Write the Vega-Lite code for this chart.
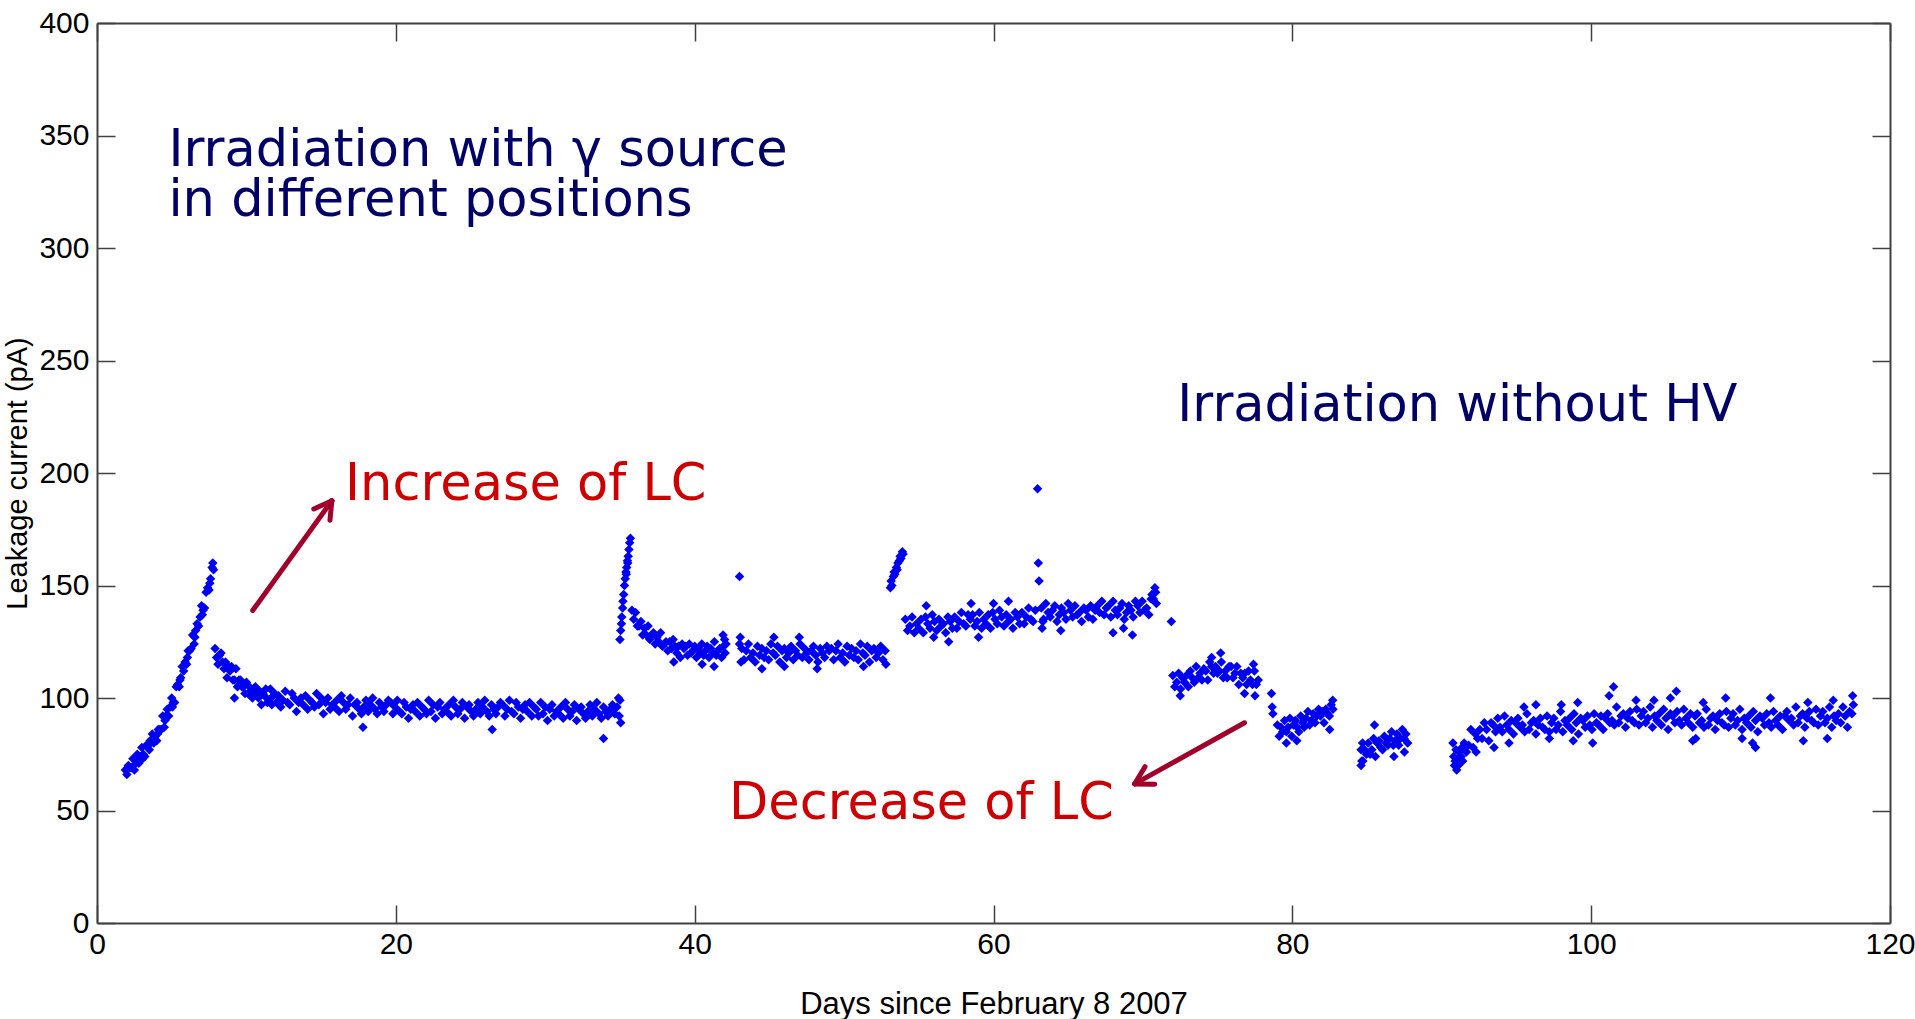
{
  "$schema": "https://vega.github.io/schema/vega-lite/v6.json",
  "width": 1793,
  "height": 900,
  "autosize": {"type": "none"},
  "padding": {"left": 97, "top": 23, "right": 25, "bottom": 96},
  "background": "white",
  "config": {"view": {"stroke": null}},
  "datasets": {
    "lc": [
      {"d":1.9,"v":68},{"d":2.0,"v":66},{"d":2.05,"v":69},{"d":2.1,"v":70},{"d":2.2,"v":69},{"d":2.3,"v":69},{"d":2.4,"v":73},{"d":2.45,"v":70},{"d":2.5,"v":68},{"d":2.6,"v":73},{"d":2.7,"v":75},{"d":2.8,"v":71},{"d":2.9,"v":74},{"d":3.0,"v":78},{"d":3.05,"v":73},{"d":3.1,"v":75},{"d":3.2,"v":74},{"d":3.3,"v":79},{"d":3.4,"v":79},{"d":3.5,"v":77},{"d":3.55,"v":81},{"d":3.6,"v":80},{"d":3.7,"v":84},{"d":3.8,"v":80},{"d":3.9,"v":83},{"d":4.0,"v":81},{"d":4.05,"v":84},{"d":4.1,"v":86},{"d":4.2,"v":86},{"d":4.3,"v":86},{"d":4.4,"v":92},{"d":4.5,"v":87},{"d":4.55,"v":90},{"d":4.6,"v":92},{"d":4.7,"v":95},{"d":4.8,"v":92},{"d":4.9,"v":96},{"d":5.0,"v":100},{"d":5.05,"v":96},{"d":5.1,"v":98},{"d":5.2,"v":98},{"d":5.3,"v":105},{"d":5.4,"v":106},{"d":5.5,"v":105},{"d":5.55,"v":108},{"d":5.6,"v":109},{"d":5.7,"v":114},{"d":5.8,"v":112},{"d":5.9,"v":116},{"d":6.0,"v":115},{"d":6.05,"v":118},{"d":6.1,"v":121},{"d":6.2,"v":121},{"d":6.3,"v":122},{"d":6.4,"v":128},{"d":6.5,"v":124},{"d":6.55,"v":127},{"d":6.6,"v":130},{"d":6.7,"v":133},{"d":6.8,"v":132},{"d":6.9,"v":136},{"d":7.0,"v":141},{"d":7.05,"v":137},{"d":7.1,"v":139},{"d":7.2,"v":140},{"d":7.3,"v":147},{"d":7.4,"v":149},{"d":7.5,"v":148},{"d":7.55,"v":151},{"d":7.6,"v":153},{"d":7.7,"v":158},{"d":7.75,"v":160},{"d":7.8,"v":157},
      {"d":7.9,"v":122},{"d":8.0,"v":118},{"d":8.1,"v":115},{"d":8.2,"v":119},{"d":8.3,"v":120},{"d":8.4,"v":116},{"d":8.5,"v":113},{"d":8.6,"v":116},{"d":8.7,"v":109},{"d":8.8,"v":114},{"d":8.9,"v":112},{"d":9.0,"v":114},{"d":9.1,"v":108},{"d":9.2,"v":108},{"d":9.2,"v":100},{"d":9.3,"v":113},{"d":9.4,"v":105},{"d":9.5,"v":108},{"d":9.6,"v":108},{"d":9.7,"v":105},{"d":9.8,"v":105},{"d":9.9,"v":102},{"d":10.0,"v":107},{"d":10.1,"v":102},{"d":10.2,"v":105},{"d":10.3,"v":102},{"d":10.4,"v":100},{"d":10.5,"v":104},{"d":10.6,"v":105},{"d":10.7,"v":102},{"d":10.8,"v":100},{"d":10.9,"v":103},{"d":11.0,"v":97},{"d":11.1,"v":102},{"d":11.2,"v":101},{"d":11.3,"v":104},{"d":11.4,"v":98},{"d":11.5,"v":99},{"d":11.6,"v":104},{"d":11.7,"v":97},{"d":11.8,"v":101},{"d":11.9,"v":102},{"d":12.0,"v":98},
      {"d":12.15,"v":101},{"d":12.3,"v":96},{"d":12.45,"v":99},{"d":12.6,"v":103},{"d":12.75,"v":98},{"d":12.9,"v":97},{"d":13.05,"v":102},{"d":13.2,"v":100},{"d":13.35,"v":94},{"d":13.5,"v":98},{"d":13.65,"v":100},{"d":13.8,"v":97},{"d":13.95,"v":101},{"d":14.1,"v":95},{"d":14.25,"v":99},{"d":14.4,"v":98},{"d":14.55,"v":96},{"d":14.7,"v":102},{"d":14.85,"v":97},{"d":15.0,"v":100},{"d":15.15,"v":93},{"d":15.3,"v":98},{"d":15.45,"v":100},{"d":15.6,"v":95},{"d":15.75,"v":97},{"d":15.9,"v":96},{"d":16.05,"v":99},{"d":16.2,"v":94},{"d":16.35,"v":101},{"d":16.5,"v":98},{"d":16.65,"v":95},{"d":16.8,"v":97},{"d":16.95,"v":100},{"d":17.1,"v":92},{"d":17.25,"v":97},{"d":17.4,"v":98},{"d":17.55,"v":95},{"d":17.7,"v":93},{"d":17.8,"v":87},{"d":17.85,"v":96},{"d":18.0,"v":99},{"d":18.15,"v":94},{"d":18.3,"v":97},{"d":18.45,"v":100},{"d":18.6,"v":95},{"d":18.75,"v":93},{"d":18.9,"v":98},{"d":19.05,"v":96},{"d":19.2,"v":94},{"d":19.35,"v":97},{"d":19.5,"v":99},{"d":19.65,"v":98},{"d":19.8,"v":93},{"d":19.95,"v":96},{"d":20.1,"v":99},{"d":20.25,"v":94},{"d":20.4,"v":93},{"d":20.55,"v":98},{"d":20.7,"v":96},{"d":20.85,"v":91},{"d":21.0,"v":95},{"d":21.15,"v":97},{"d":21.3,"v":94},{"d":21.45,"v":98},{"d":21.6,"v":92},{"d":21.75,"v":96},{"d":21.9,"v":95},{"d":22.05,"v":93},{"d":22.2,"v":99},{"d":22.35,"v":94},{"d":22.5,"v":97},{"d":22.65,"v":91},{"d":22.8,"v":96},{"d":22.95,"v":98},{"d":23.1,"v":93},{"d":23.25,"v":95},{"d":23.4,"v":94},{"d":23.55,"v":97},{"d":23.7,"v":92},{"d":23.85,"v":99},{"d":24.0,"v":96},{"d":24.15,"v":93},{"d":24.3,"v":95},{"d":24.45,"v":98},{"d":24.6,"v":91},{"d":24.75,"v":96},{"d":24.9,"v":97},{"d":25.05,"v":94},{"d":25.2,"v":92},{"d":25.35,"v":95},{"d":25.5,"v":98},{"d":25.65,"v":93},{"d":25.8,"v":96},{"d":25.95,"v":99},{"d":26.1,"v":94},{"d":26.25,"v":92},{"d":26.4,"v":97},{"d":26.45,"v":86},{"d":26.55,"v":95},{"d":26.7,"v":93},{"d":26.85,"v":96},{"d":27.0,"v":98},{"d":27.15,"v":97},{"d":27.3,"v":92},{"d":27.45,"v":95},{"d":27.6,"v":99},{"d":27.75,"v":94},{"d":27.9,"v":93},{"d":28.05,"v":98},{"d":28.2,"v":96},{"d":28.35,"v":91},{"d":28.5,"v":95},{"d":28.65,"v":97},{"d":28.8,"v":94},{"d":28.95,"v":98},{"d":29.1,"v":92},{"d":29.25,"v":96},{"d":29.4,"v":95},{"d":29.55,"v":92},{"d":29.7,"v":98},{"d":29.85,"v":93},{"d":30.0,"v":96},{"d":30.15,"v":90},{"d":30.3,"v":95},{"d":30.45,"v":97},{"d":30.6,"v":92},{"d":30.75,"v":94},{"d":30.9,"v":93},{"d":31.05,"v":96},{"d":31.2,"v":91},{"d":31.35,"v":98},{"d":31.5,"v":95},{"d":31.65,"v":92},{"d":31.8,"v":94},{"d":31.95,"v":97},{"d":32.1,"v":90},{"d":32.25,"v":95},{"d":32.4,"v":96},{"d":32.55,"v":93},{"d":32.7,"v":91},{"d":32.85,"v":94},{"d":33.0,"v":97},{"d":33.15,"v":92},{"d":33.3,"v":95},{"d":33.45,"v":98},{"d":33.6,"v":93},{"d":33.75,"v":91},{"d":33.9,"v":96},{"d":33.9,"v":82},{"d":34.05,"v":94},{"d":34.2,"v":92},{"d":34.35,"v":95},{"d":34.5,"v":97},{"d":34.65,"v":93},{"d":34.8,"v":96},{"d":34.9,"v":100},{"d":34.95,"v":92},{"d":35.0,"v":99},{"d":35.05,"v":89},
      {"d":35.0,"v":126},{"d":35.05,"v":130},{"d":35.1,"v":133},{"d":35.12,"v":136},{"d":35.18,"v":140},{"d":35.2,"v":143},{"d":35.25,"v":146},{"d":35.3,"v":150},{"d":35.35,"v":153},{"d":35.4,"v":156},{"d":35.42,"v":155},{"d":35.45,"v":158},{"d":35.5,"v":161},{"d":35.52,"v":160},{"d":35.55,"v":163},{"d":35.6,"v":166},{"d":35.65,"v":169},{"d":35.7,"v":171},
      {"d":35.8,"v":139},{"d":35.92,"v":135},{"d":36.04,"v":138},{"d":36.16,"v":132},{"d":36.28,"v":132},{"d":36.4,"v":134},{"d":36.52,"v":128},{"d":36.64,"v":131},{"d":36.76,"v":128},{"d":36.88,"v":132},{"d":37.0,"v":126},{"d":37.12,"v":128},{"d":37.24,"v":129},{"d":37.36,"v":124},{"d":37.48,"v":127},{"d":37.6,"v":125},{"d":37.72,"v":129},{"d":37.84,"v":123},{"d":37.96,"v":124},{"d":38.08,"v":125},{"d":38.2,"v":121},{"d":38.32,"v":125},{"d":38.44,"v":122},{"d":38.56,"v":126},{"d":38.6,"v":116},{"d":38.68,"v":123},{"d":38.8,"v":120},{"d":38.92,"v":123},{"d":39.04,"v":118},{"d":39.16,"v":124},{"d":39.28,"v":122},{"d":39.4,"v":123},{"d":39.52,"v":119},{"d":39.64,"v":124},{"d":39.76,"v":120},{"d":39.88,"v":121},{"d":40.0,"v":123},{"d":40.12,"v":118},{"d":40.24,"v":122},{"d":40.36,"v":120},{"d":40.48,"v":124},{"d":40.5,"v":115},{"d":40.6,"v":119},{"d":40.72,"v":121},{"d":40.84,"v":123},{"d":40.96,"v":118},{"d":41.08,"v":122},{"d":41.2,"v":120},{"d":41.3,"v":114},{"d":41.32,"v":125},{"d":41.44,"v":119},{"d":41.56,"v":121},{"d":41.68,"v":122},{"d":41.8,"v":118},{"d":41.9,"v":128},{"d":41.92,"v":123},{"d":42.0,"v":126},{"d":42.04,"v":120},{"d":42.1,"v":124},
      {"d":43.0,"v":154},{"d":43.0,"v":124},{"d":43.05,"v":127},{"d":43.1,"v":116},
      {"d":43.15,"v":122},{"d":43.3,"v":117},{"d":43.45,"v":121},{"d":43.6,"v":124},{"d":43.75,"v":118},{"d":43.9,"v":120},{"d":44.05,"v":116},{"d":44.2,"v":123},{"d":44.35,"v":119},{"d":44.5,"v":122},{"d":44.5,"v":113},{"d":44.65,"v":118},{"d":44.8,"v":121},{"d":44.95,"v":117},{"d":45.1,"v":124},{"d":45.25,"v":120},{"d":45.3,"v":127},{"d":45.4,"v":119},{"d":45.55,"v":123},{"d":45.7,"v":116},{"d":45.85,"v":121},{"d":46.0,"v":122},{"d":46.0,"v":114},{"d":46.15,"v":118},{"d":46.3,"v":120},{"d":46.45,"v":123},{"d":46.6,"v":117},{"d":46.75,"v":121},{"d":46.9,"v":119},{"d":47.0,"v":127},{"d":47.05,"v":124},{"d":47.2,"v":118},{"d":47.35,"v":122},{"d":47.5,"v":120},{"d":47.65,"v":117},{"d":47.8,"v":121},{"d":47.95,"v":123},{"d":48.1,"v":119},{"d":48.2,"v":113},{"d":48.25,"v":116},{"d":48.4,"v":122},{"d":48.55,"v":120},{"d":48.7,"v":118},{"d":48.85,"v":123},{"d":49.0,"v":121},{"d":49.15,"v":122},{"d":49.3,"v":117},{"d":49.45,"v":121},{"d":49.6,"v":124},{"d":49.75,"v":118},{"d":49.9,"v":120},{"d":50.05,"v":116},{"d":50.2,"v":123},{"d":50.35,"v":119},{"d":50.5,"v":122},{"d":50.65,"v":118},{"d":50.8,"v":121},{"d":50.95,"v":117},{"d":51.1,"v":124},{"d":51.25,"v":120},{"d":51.3,"v":114},{"d":51.4,"v":119},{"d":51.55,"v":123},{"d":51.7,"v":116},{"d":51.85,"v":121},{"d":52.0,"v":122},{"d":52.15,"v":118},{"d":52.3,"v":120},{"d":52.45,"v":123},{"d":52.6,"v":117},{"d":52.75,"v":121},{"d":52.8,"v":115},
      {"d":53.1,"v":149},{"d":53.15,"v":152},{"d":53.2,"v":150},{"d":53.3,"v":154},{"d":53.35,"v":156},{"d":53.4,"v":155},{"d":53.5,"v":158},{"d":53.55,"v":157},{"d":53.6,"v":160},{"d":53.7,"v":161},{"d":53.75,"v":163},{"d":53.8,"v":162},{"d":53.9,"v":165},{"d":53.95,"v":164},
      {"d":54.1,"v":135},{"d":54.25,"v":130},{"d":54.4,"v":132},{"d":54.55,"v":136},{"d":54.7,"v":129},{"d":54.85,"v":133},{"d":55.0,"v":131},{"d":55.15,"v":135},{"d":55.3,"v":129},{"d":55.45,"v":136},{"d":55.5,"v":141},{"d":55.6,"v":133},{"d":55.75,"v":131},{"d":55.9,"v":137},{"d":56.0,"v":127},{"d":56.05,"v":134},{"d":56.2,"v":130},{"d":56.35,"v":135},{"d":56.5,"v":132},{"d":56.65,"v":133},{"d":56.8,"v":129},{"d":56.95,"v":136},{"d":57.0,"v":125},{"d":57.1,"v":134},{"d":57.25,"v":131},{"d":57.4,"v":136},{"d":57.55,"v":131},{"d":57.7,"v":134},{"d":57.85,"v":138},{"d":58.0,"v":133},{"d":58.15,"v":132},{"d":58.3,"v":137},{"d":58.45,"v":135},{"d":58.5,"v":142},{"d":58.6,"v":137},{"d":58.75,"v":132},{"d":58.9,"v":134},{"d":59.0,"v":127},{"d":59.05,"v":138},{"d":59.2,"v":131},{"d":59.35,"v":135},{"d":59.5,"v":133},{"d":59.65,"v":137},{"d":59.8,"v":131},{"d":59.95,"v":138},{"d":60.0,"v":142},{"d":60.1,"v":135},{"d":60.25,"v":133},{"d":60.4,"v":139},{"d":60.55,"v":136},{"d":60.7,"v":132},{"d":60.85,"v":137},{"d":61.0,"v":134},{"d":61.0,"v":143},{"d":61.15,"v":135},{"d":61.3,"v":131},{"d":61.45,"v":138},{"d":61.6,"v":136},{"d":61.75,"v":133},{"d":61.9,"v":138},{"d":62.05,"v":133},{"d":62.2,"v":136},{"d":62.35,"v":140},{"d":62.5,"v":135},{"d":62.65,"v":134},{"d":62.8,"v":139},
      {"d":62.95,"v":193},{"d":63.0,"v":160},{"d":63.05,"v":152},
      {"d":63.2,"v":140},{"d":63.25,"v":131},{"d":63.3,"v":134},{"d":63.35,"v":135},{"d":63.5,"v":142},{"d":63.65,"v":138},{"d":63.8,"v":136},{"d":63.95,"v":139},{"d":64.1,"v":141},{"d":64.25,"v":134},{"d":64.4,"v":137},{"d":64.5,"v":130},{"d":64.55,"v":140},{"d":64.7,"v":138},{"d":64.85,"v":135},{"d":65.0,"v":142},{"d":65.15,"v":139},{"d":65.3,"v":136},{"d":65.45,"v":141},{"d":65.6,"v":137},{"d":65.75,"v":138},{"d":65.9,"v":134},{"d":66.05,"v":140},{"d":66.2,"v":139},{"d":66.35,"v":136},{"d":66.5,"v":141},{"d":66.65,"v":135},{"d":66.8,"v":139},{"d":66.95,"v":141},{"d":67.1,"v":138},{"d":67.25,"v":143},{"d":67.4,"v":137},{"d":67.55,"v":140},{"d":67.7,"v":141},{"d":67.85,"v":136},{"d":68.0,"v":143},{"d":68.0,"v":129},{"d":68.15,"v":139},{"d":68.3,"v":137},{"d":68.45,"v":140},{"d":68.6,"v":142},{"d":68.7,"v":131},{"d":68.75,"v":135},{"d":68.9,"v":138},{"d":69.05,"v":141},{"d":69.2,"v":139},{"d":69.3,"v":128},{"d":69.35,"v":136},{"d":69.5,"v":143},{"d":69.65,"v":141},{"d":69.8,"v":138},{"d":69.95,"v":143},{"d":70.1,"v":139},{"d":70.25,"v":140},{"d":70.4,"v":137},{"d":70.55,"v":144},{"d":70.6,"v":146},{"d":70.7,"v":144},{"d":70.8,"v":149},{"d":70.85,"v":147},{"d":70.9,"v":142},
      {"d":71.9,"v":134},
      {"d":72.0,"v":110},{"d":72.13,"v":105},{"d":72.26,"v":107},{"d":72.39,"v":111},{"d":72.5,"v":101},{"d":72.52,"v":104},{"d":72.65,"v":109},{"d":72.78,"v":107},{"d":72.91,"v":110},{"d":73.04,"v":105},{"d":73.17,"v":112},{"d":73.3,"v":109},{"d":73.43,"v":107},{"d":73.56,"v":114},{"d":73.69,"v":109},{"d":73.82,"v":111},{"d":73.95,"v":108},{"d":74.08,"v":113},{"d":74.21,"v":112},{"d":74.34,"v":108},{"d":74.47,"v":116},{"d":74.6,"v":114},{"d":74.6,"v":118},{"d":74.73,"v":111},{"d":74.86,"v":114},{"d":74.99,"v":111},{"d":75.12,"v":112},{"d":75.2,"v":120},{"d":75.25,"v":116},{"d":75.38,"v":109},{"d":75.51,"v":112},{"d":75.64,"v":109},{"d":75.77,"v":114},{"d":75.9,"v":114},{"d":76.03,"v":109},{"d":76.16,"v":111},{"d":76.29,"v":114},{"d":76.42,"v":106},{"d":76.55,"v":111},{"d":76.68,"v":109},{"d":76.8,"v":102},{"d":76.81,"v":111},{"d":76.94,"v":106},{"d":77.07,"v":112},{"d":77.2,"v":108},{"d":77.33,"v":106},{"d":77.4,"v":115},{"d":77.46,"v":112},{"d":77.5,"v":101},{"d":77.59,"v":106},{"d":77.72,"v":108},
      {"d":78.6,"v":102},{"d":78.65,"v":96},{"d":78.7,"v":93},
      {"d":79.0,"v":88},{"d":79.12,"v":83},{"d":79.24,"v":87},{"d":79.36,"v":85},{"d":79.48,"v":90},{"d":79.6,"v":85},{"d":79.6,"v":80},{"d":79.72,"v":87},{"d":79.84,"v":91},{"d":79.96,"v":83},{"d":80.08,"v":88},{"d":80.2,"v":90},{"d":80.3,"v":81},{"d":80.32,"v":87},{"d":80.44,"v":85},{"d":80.56,"v":92},{"d":80.68,"v":89},{"d":80.8,"v":87},{"d":80.92,"v":91},{"d":81.04,"v":94},{"d":81.16,"v":88},{"d":81.28,"v":90},{"d":81.4,"v":93},{"d":81.52,"v":89},{"d":81.64,"v":92},{"d":81.76,"v":95},{"d":81.88,"v":92},{"d":82.0,"v":94},{"d":82.12,"v":89},{"d":82.24,"v":95},{"d":82.36,"v":93},{"d":82.48,"v":92},{"d":82.5,"v":86},{"d":82.6,"v":97},{"d":82.7,"v":99},{"d":82.72,"v":95},
      {"d":84.6,"v":77},{"d":84.6,"v":70},{"d":84.65,"v":72},{"d":84.7,"v":80},{"d":84.72,"v":72},{"d":84.84,"v":77},{"d":84.96,"v":75},{"d":85.08,"v":80},{"d":85.2,"v":75},{"d":85.32,"v":77},{"d":85.44,"v":82},{"d":85.5,"v":88},{"d":85.56,"v":74},{"d":85.68,"v":80},{"d":85.8,"v":81},{"d":85.92,"v":78},{"d":86.04,"v":77},{"d":86.16,"v":83},{"d":86.28,"v":80},{"d":86.4,"v":79},{"d":86.52,"v":82},{"d":86.64,"v":85},{"d":86.76,"v":79},{"d":86.8,"v":74},{"d":86.88,"v":81},{"d":87.0,"v":84},{"d":87.12,"v":79},{"d":87.24,"v":82},{"d":87.36,"v":86},{"d":87.48,"v":82},{"d":87.5,"v":76},{"d":87.6,"v":84},{"d":87.72,"v":80},
      {"d":90.75,"v":80},{"d":90.8,"v":74},{"d":90.85,"v":70},{"d":90.9,"v":72},{"d":90.95,"v":77},{"d":91.0,"v":68},{"d":91.05,"v":73},{"d":91.1,"v":70},{"d":91.15,"v":76},{"d":91.2,"v":71},{"d":91.3,"v":74},{"d":91.35,"v":78},{"d":91.4,"v":72},
      {"d":91.5,"v":80},{"d":91.65,"v":76},{"d":91.8,"v":79},{"d":91.95,"v":86},{"d":92.1,"v":78},{"d":92.25,"v":84},{"d":92.3,"v":76},{"d":92.4,"v":82},{"d":92.55,"v":86},{"d":92.7,"v":82},{"d":92.85,"v":89},{"d":93.0,"v":86},{"d":93.15,"v":81},{"d":93.3,"v":89},{"d":93.45,"v":88},{"d":93.5,"v":78},{"d":93.6,"v":85},{"d":93.75,"v":91},{"d":93.9,"v":87},{"d":94.05,"v":85},{"d":94.2,"v":92},{"d":94.35,"v":88},{"d":94.5,"v":86},{"d":94.5,"v":80},{"d":94.65,"v":90},{"d":94.8,"v":84},{"d":94.95,"v":89},{"d":95.1,"v":91},{"d":95.25,"v":87},{"d":95.4,"v":88},{"d":95.5,"v":96},{"d":95.55,"v":85},{"d":95.7,"v":93},{"d":95.85,"v":86},{"d":96.0,"v":89},{"d":96.15,"v":90},{"d":96.3,"v":84},{"d":96.3,"v":97},{"d":96.45,"v":88},{"d":96.6,"v":91},{"d":96.75,"v":87},{"d":96.9,"v":86},{"d":97.05,"v":92},{"d":97.2,"v":85},{"d":97.2,"v":82},{"d":97.35,"v":89},{"d":97.5,"v":91},{"d":97.65,"v":86},{"d":97.8,"v":88},{"d":97.95,"v":94},{"d":98.0,"v":97},{"d":98.1,"v":85},{"d":98.25,"v":90},{"d":98.4,"v":88},{"d":98.55,"v":91},{"d":98.7,"v":86},{"d":98.8,"v":81},{"d":98.85,"v":93},{"d":99.0,"v":89},{"d":99.1,"v":98},{"d":99.15,"v":84},{"d":99.3,"v":91},{"d":99.45,"v":90},{"d":99.6,"v":87},{"d":99.75,"v":92},{"d":99.9,"v":88},{"d":100.05,"v":86},{"d":100.1,"v":80},{"d":100.2,"v":93},{"d":100.35,"v":89},{"d":100.5,"v":88},{"d":100.65,"v":92},{"d":100.8,"v":86},{"d":100.95,"v":91},{"d":101.1,"v":93},{"d":101.2,"v":101},{"d":101.25,"v":89},{"d":101.4,"v":90},{"d":101.5,"v":105},{"d":101.55,"v":88},{"d":101.7,"v":96},{"d":101.85,"v":89},{"d":102.0,"v":92},{"d":102.15,"v":93},{"d":102.3,"v":87},{"d":102.45,"v":91},{"d":102.6,"v":94},{"d":102.75,"v":90},{"d":102.9,"v":89},{"d":103.0,"v":99},{"d":103.05,"v":95},{"d":103.2,"v":88},{"d":103.35,"v":92},{"d":103.5,"v":94},{"d":103.65,"v":89},{"d":103.8,"v":91},{"d":103.95,"v":96},{"d":104.1,"v":87},{"d":104.2,"v":99},{"d":104.25,"v":92},{"d":104.4,"v":90},{"d":104.55,"v":93},{"d":104.7,"v":88},{"d":104.85,"v":95},{"d":105.0,"v":91},{"d":105.15,"v":86},{"d":105.3,"v":93},{"d":105.3,"v":100},{"d":105.45,"v":92},{"d":105.6,"v":89},{"d":105.7,"v":103},{"d":105.75,"v":94},{"d":105.9,"v":90},{"d":106.05,"v":88},{"d":106.2,"v":95},{"d":106.35,"v":91},{"d":106.5,"v":89},{"d":106.65,"v":93},{"d":106.8,"v":87},{"d":106.8,"v":81},{"d":106.95,"v":92},{"d":107.0,"v":82},{"d":107.1,"v":93},{"d":107.25,"v":89},{"d":107.4,"v":90},{"d":107.5,"v":98},{"d":107.55,"v":87},{"d":107.7,"v":95},{"d":107.85,"v":88},{"d":108.0,"v":91},{"d":108.15,"v":92},{"d":108.3,"v":86},{"d":108.45,"v":90},{"d":108.6,"v":93},{"d":108.75,"v":89},{"d":108.9,"v":88},{"d":109.0,"v":100},{"d":109.05,"v":94},{"d":109.2,"v":87},{"d":109.35,"v":91},{"d":109.5,"v":93},{"d":109.65,"v":88},{"d":109.8,"v":90},{"d":109.95,"v":95},{"d":110.1,"v":86},{"d":110.1,"v":82},{"d":110.25,"v":91},{"d":110.4,"v":89},{"d":110.55,"v":92},{"d":110.7,"v":87},{"d":110.8,"v":80},{"d":110.85,"v":94},{"d":111.0,"v":90},{"d":111.0,"v":78},{"d":111.15,"v":85},{"d":111.3,"v":92},{"d":111.45,"v":91},{"d":111.6,"v":88},{"d":111.75,"v":93},{"d":111.9,"v":89},{"d":112.0,"v":100},{"d":112.05,"v":87},{"d":112.2,"v":94},{"d":112.35,"v":90},{"d":112.5,"v":88},{"d":112.65,"v":92},{"d":112.8,"v":86},{"d":112.95,"v":92},{"d":113.1,"v":94},{"d":113.25,"v":90},{"d":113.4,"v":91},{"d":113.55,"v":88},{"d":113.7,"v":96},{"d":113.85,"v":89},{"d":114.0,"v":92},{"d":114.15,"v":93},{"d":114.2,"v":81},{"d":114.3,"v":87},{"d":114.45,"v":91},{"d":114.5,"v":98},{"d":114.6,"v":94},{"d":114.75,"v":90},{"d":114.9,"v":89},{"d":115.05,"v":95},{"d":115.2,"v":88},{"d":115.35,"v":92},{"d":115.5,"v":94},{"d":115.65,"v":89},{"d":115.8,"v":91},{"d":115.8,"v":82},{"d":115.95,"v":96},{"d":116.1,"v":87},{"d":116.2,"v":99},{"d":116.25,"v":92},{"d":116.4,"v":90},{"d":116.55,"v":93},{"d":116.7,"v":89},{"d":116.85,"v":96},{"d":117.0,"v":92},{"d":117.15,"v":87},{"d":117.3,"v":94},{"d":117.45,"v":93},{"d":117.5,"v":101},{"d":117.55,"v":97}
    ],
    "navy": [
      {"t":"Irradiation with γ source\nin different positions","x":4.78,"y":343},
      {"t":"Irradiation without HV","x":72.3,"y":230}
    ],
    "red": [
      {"t":"Increase of LC","x":16.6,"y":194.7},
      {"t":"Decrease of LC","x":42.3,"y":53}
    ],
    "arrows": [
      {"x":10.42,"y":138.9,"x2":15.72,"y2":187.7},
      {"x":15.72,"y":187.7,"x2":14.51,"y2":184.0},
      {"x":15.72,"y":187.7,"x2":15.59,"y2":179.0},
      {"x":76.80,"y":88.98,"x2":69.45,"y2":61.82},
      {"x":69.45,"y":61.82,"x2":70.79,"y2":61.69},
      {"x":69.45,"y":61.82,"x2":70.14,"y2":69.47}
    ]
  },
  "resolve": {"axis": {"x": "independent", "y": "independent"}},
  "layer": [
    {
      "data": {"name": "lc"},
      "mark": {"type": "point", "shape": "diamond", "filled": true, "size": 90, "color": "#0000f0", "opacity": 1},
      "encoding": {
        "x": {"field": "d", "type": "quantitative",
              "scale": {"domain": [0, 120], "nice": false, "zero": false},
              "axis": {"orient": "bottom", "title": "Days since February 8 2007", "values": [0,20,40,60,80,100,120],
                       "grid": false, "tickSize": -18, "tickWidth": 1.5, "tickColor": "#404040",
                       "domainColor": "#404040", "domainWidth": 2,
                       "labelPadding": 24, "labelFont": "Liberation Sans", "labelFontSize": 30, "labelColor": "#000000",
                       "labelFlush": false, "labelOverlap": false,
                       "titleFont": "Liberation Sans", "titleFontSize": 31, "titleFontWeight": "normal", "titleColor": "#000000", "titlePadding": 30}},
        "y": {"field": "v", "type": "quantitative",
              "scale": {"domain": [0, 400], "nice": false, "zero": false},
              "axis": {"orient": "left", "title": "Leakage current (pA)", "values": [0,50,100,150,200,250,300,350,400],
                       "grid": false, "tickSize": -18, "tickWidth": 1.5, "tickColor": "#404040",
                       "domainColor": "#404040", "domainWidth": 2,
                       "labelPadding": 26, "labelFont": "Liberation Sans", "labelFontSize": 30, "labelColor": "#000000",
                       "labelFlush": false, "labelOverlap": false,
                       "titleFont": "Liberation Sans", "titleFontSize": 29, "titleFontWeight": "normal", "titleColor": "#000000", "titlePadding": 6}}
      }
    },
    {
      "data": {"name": "arrows"},
      "mark": {"type": "rule", "color": "#a0002a", "strokeWidth": 5, "strokeCap": "round"},
      "encoding": {
        "x": {"field": "x", "type": "quantitative",
              "axis": {"orient": "top", "labels": false, "title": null, "values": [0,20,40,60,80,100,120],
                       "grid": false, "tickSize": -18, "tickWidth": 1.5, "tickColor": "#404040",
                       "domainColor": "#404040", "domainWidth": 2}},
        "y": {"field": "y", "type": "quantitative",
              "axis": {"orient": "right", "labels": false, "title": null, "values": [0,50,100,150,200,250,300,350,400],
                       "grid": false, "tickSize": -18, "tickWidth": 1.5, "tickColor": "#404040",
                       "domainColor": "#404040", "domainWidth": 2}},
        "x2": {"field": "x2"},
        "y2": {"field": "y2"}
      }
    },
    {
      "data": {"name": "navy"},
      "mark": {"type": "text", "align": "left", "baseline": "middle", "font": "DejaVu Sans", "fontSize": 51, "lineHeight": 50, "lineBreak": "\n", "color": "#000066"},
      "encoding": {
        "x": {"field": "x", "type": "quantitative", "axis": null},
        "y": {"field": "y", "type": "quantitative", "axis": null},
        "text": {"field": "t"}
      }
    },
    {
      "data": {"name": "red"},
      "mark": {"type": "text", "align": "left", "baseline": "middle", "font": "DejaVu Sans", "fontSize": 51, "color": "#cc0000"},
      "encoding": {
        "x": {"field": "x", "type": "quantitative", "axis": null},
        "y": {"field": "y", "type": "quantitative", "axis": null},
        "text": {"field": "t"}
      }
    }
  ]
}
